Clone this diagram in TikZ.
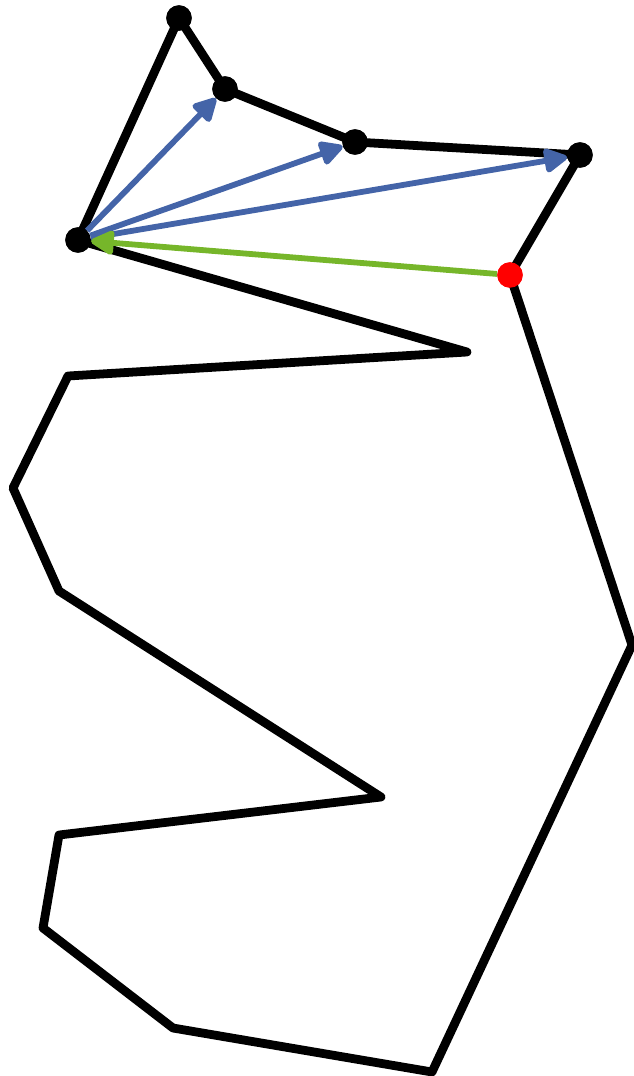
\documentclass[tikz,border=0pt]{standalone}
\usetikzlibrary{arrows.meta}
\definecolor{ptblue}{RGB}{68,100,168}
\definecolor{ptgreen}{RGB}{118,182,42}

\begin{document}
\begin{tikzpicture}[x=0.02cm, y=-0.02cm,
  edge/.style={line width=5pt, line join=round},
  vert/.style={circle, fill=black, inner sep=0pt, minimum size=14.5pt},
  probe/.style={line width=3.3pt, -{Triangle[length=15pt, width=15pt, round]}}]
  \useasboundingbox (0,0) rectangle (633,1076);
  % hull points
  \coordinate (p6) at (632,645);
  \coordinate (p7) at (432,1072);
  \coordinate (p8) at (173,1028);
  \coordinate (p9) at (43,928);
  \coordinate (p10) at (59,835);
  \coordinate (p11) at (381,797);
  \coordinate (p12) at (59,591);
  \coordinate (p13) at (13,488);
  \coordinate (p14) at (68,376);
  \coordinate (p15) at (467,352);
  \node[vert] (p0) at (78,240) {};
  \node[vert] (p1) at (179,18) {};
  \node[vert] (p2) at (225,89) {};
  \node[vert] (p3) at (355,142) {};
  \node[vert] (p4) at (580,155) {};
  \node[vert, fill=red] (p5) at (510,275) {};
  \draw[edge] (p0.center) -- (p1.center) -- (p2.center) -- (p3.center) -- (p4.center) -- (p5.center)
    -- (p6) -- (p7) -- (p8) -- (p9) -- (p10) -- (p11) -- (p12) -- (p13) -- (p14) -- (p15) -- cycle;
  % redraw dots over the hull
  \foreach \v in {p0,p1,p2,p3,p4} \fill (\v) circle (7.25pt);
  \fill[red] (p5) circle (7.25pt);
  \draw[probe, ptblue] (p0) -- (p2);
  \draw[probe, ptblue] (p0) -- (p3);
  \draw[probe, ptblue] (p0) -- (p4);
  \draw[probe, ptgreen] (p5) -- (p0);
\end{tikzpicture}
\end{document}
